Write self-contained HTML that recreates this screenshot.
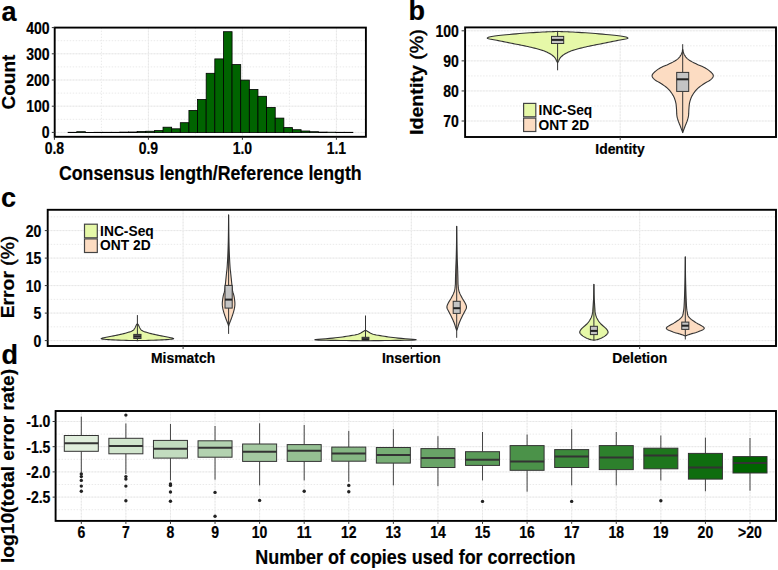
<!DOCTYPE html>
<html><head><meta charset="utf-8"><style>
html,body{margin:0;padding:0;background:#fff;}
svg{display:block;font-family:"Liberation Sans", sans-serif;}
</style></head><body>
<svg width="778" height="570" viewBox="0 0 778 570">
<rect width="778" height="570" fill="#fff"/>
<line x1="101.40" y1="27.60" x2="101.40" y2="136.80" stroke="#eaeaea" stroke-width="1" stroke-dasharray="1.5,1.5"/>
<line x1="195.40" y1="27.60" x2="195.40" y2="136.80" stroke="#eaeaea" stroke-width="1" stroke-dasharray="1.5,1.5"/>
<line x1="289.40" y1="27.60" x2="289.40" y2="136.80" stroke="#eaeaea" stroke-width="1" stroke-dasharray="1.5,1.5"/>
<line x1="148.40" y1="27.60" x2="148.40" y2="136.80" stroke="#f3f3f3" stroke-width="1"/>
<line x1="148.40" y1="27.60" x2="148.40" y2="136.80" stroke="#e7e7e7" stroke-width="1" stroke-dasharray="1.5,1.5"/>
<line x1="242.40" y1="27.60" x2="242.40" y2="136.80" stroke="#f3f3f3" stroke-width="1"/>
<line x1="242.40" y1="27.60" x2="242.40" y2="136.80" stroke="#e7e7e7" stroke-width="1" stroke-dasharray="1.5,1.5"/>
<line x1="336.40" y1="27.60" x2="336.40" y2="136.80" stroke="#f3f3f3" stroke-width="1"/>
<line x1="336.40" y1="27.60" x2="336.40" y2="136.80" stroke="#e7e7e7" stroke-width="1" stroke-dasharray="1.5,1.5"/>
<line x1="54.70" y1="119.30" x2="365.90" y2="119.30" stroke="#eaeaea" stroke-width="1" stroke-dasharray="1.5,1.5"/>
<line x1="54.70" y1="93.10" x2="365.90" y2="93.10" stroke="#eaeaea" stroke-width="1" stroke-dasharray="1.5,1.5"/>
<line x1="54.70" y1="66.90" x2="365.90" y2="66.90" stroke="#eaeaea" stroke-width="1" stroke-dasharray="1.5,1.5"/>
<line x1="54.70" y1="40.70" x2="365.90" y2="40.70" stroke="#eaeaea" stroke-width="1" stroke-dasharray="1.5,1.5"/>
<line x1="54.70" y1="132.40" x2="365.90" y2="132.40" stroke="#f3f3f3" stroke-width="1"/>
<line x1="54.70" y1="132.40" x2="365.90" y2="132.40" stroke="#e7e7e7" stroke-width="1" stroke-dasharray="1.5,1.5"/>
<line x1="54.70" y1="106.20" x2="365.90" y2="106.20" stroke="#f3f3f3" stroke-width="1"/>
<line x1="54.70" y1="106.20" x2="365.90" y2="106.20" stroke="#e7e7e7" stroke-width="1" stroke-dasharray="1.5,1.5"/>
<line x1="54.70" y1="80.00" x2="365.90" y2="80.00" stroke="#f3f3f3" stroke-width="1"/>
<line x1="54.70" y1="80.00" x2="365.90" y2="80.00" stroke="#e7e7e7" stroke-width="1" stroke-dasharray="1.5,1.5"/>
<line x1="54.70" y1="53.80" x2="365.90" y2="53.80" stroke="#f3f3f3" stroke-width="1"/>
<line x1="54.70" y1="53.80" x2="365.90" y2="53.80" stroke="#e7e7e7" stroke-width="1" stroke-dasharray="1.5,1.5"/>
<rect x="68.10" y="132.30" width="8.63" height="0.30" fill="#006400" stroke="#000" stroke-width="0.8" />
<rect x="76.73" y="131.70" width="8.63" height="0.90" fill="#006400" stroke="#000" stroke-width="0.8" />
<rect x="85.36" y="132.50" width="8.63" height="0.10" fill="#006400" stroke="#000" stroke-width="0.8" />
<rect x="93.99" y="132.30" width="8.63" height="0.30" fill="#006400" stroke="#000" stroke-width="0.8" />
<rect x="102.62" y="132.30" width="8.63" height="0.30" fill="#006400" stroke="#000" stroke-width="0.8" />
<rect x="111.25" y="132.30" width="8.63" height="0.30" fill="#006400" stroke="#000" stroke-width="0.8" />
<rect x="119.88" y="132.10" width="8.63" height="0.50" fill="#006400" stroke="#000" stroke-width="0.8" />
<rect x="128.51" y="132.00" width="8.63" height="0.60" fill="#006400" stroke="#000" stroke-width="0.8" />
<rect x="137.14" y="131.50" width="8.63" height="1.10" fill="#006400" stroke="#000" stroke-width="0.8" />
<rect x="145.77" y="131.25" width="8.63" height="1.35" fill="#006400" stroke="#000" stroke-width="0.8" />
<rect x="154.40" y="130.60" width="8.63" height="2.00" fill="#006400" stroke="#000" stroke-width="0.8" />
<rect x="163.03" y="127.20" width="8.63" height="5.40" fill="#006400" stroke="#000" stroke-width="0.8" />
<rect x="171.66" y="128.80" width="8.63" height="3.80" fill="#006400" stroke="#000" stroke-width="0.8" />
<rect x="180.29" y="122.70" width="8.63" height="9.90" fill="#006400" stroke="#000" stroke-width="0.8" />
<rect x="188.92" y="110.40" width="8.63" height="22.20" fill="#006400" stroke="#000" stroke-width="0.8" />
<rect x="197.55" y="99.50" width="8.63" height="33.10" fill="#006400" stroke="#000" stroke-width="0.8" />
<rect x="206.18" y="73.30" width="8.63" height="59.30" fill="#006400" stroke="#000" stroke-width="0.8" />
<rect x="214.81" y="58.90" width="8.63" height="73.70" fill="#006400" stroke="#000" stroke-width="0.8" />
<rect x="223.44" y="31.70" width="8.63" height="100.90" fill="#006400" stroke="#000" stroke-width="0.8" />
<rect x="232.07" y="64.60" width="8.63" height="68.00" fill="#006400" stroke="#000" stroke-width="0.8" />
<rect x="240.70" y="80.10" width="8.63" height="52.50" fill="#006400" stroke="#000" stroke-width="0.8" />
<rect x="249.33" y="89.40" width="8.63" height="43.20" fill="#006400" stroke="#000" stroke-width="0.8" />
<rect x="257.96" y="96.30" width="8.63" height="36.30" fill="#006400" stroke="#000" stroke-width="0.8" />
<rect x="266.59" y="107.40" width="8.63" height="25.20" fill="#006400" stroke="#000" stroke-width="0.8" />
<rect x="275.22" y="118.10" width="8.63" height="14.50" fill="#006400" stroke="#000" stroke-width="0.8" />
<rect x="283.85" y="127.60" width="8.63" height="5.00" fill="#006400" stroke="#000" stroke-width="0.8" />
<rect x="292.48" y="129.70" width="8.63" height="2.90" fill="#006400" stroke="#000" stroke-width="0.8" />
<rect x="301.11" y="131.00" width="8.63" height="1.60" fill="#006400" stroke="#000" stroke-width="0.8" />
<rect x="309.74" y="131.70" width="8.63" height="0.90" fill="#006400" stroke="#000" stroke-width="0.8" />
<rect x="318.37" y="132.10" width="8.63" height="0.50" fill="#006400" stroke="#000" stroke-width="0.8" />
<rect x="327.00" y="132.20" width="8.63" height="0.40" fill="#006400" stroke="#000" stroke-width="0.8" />
<rect x="335.63" y="132.30" width="8.63" height="0.30" fill="#006400" stroke="#000" stroke-width="0.8" />
<rect x="344.26" y="132.30" width="8.63" height="0.30" fill="#006400" stroke="#000" stroke-width="0.8" />
<rect x="54.70" y="27.60" width="311.20" height="109.20" fill="none" stroke="#000" stroke-width="1.9" />
<line x1="51.80" y1="132.40" x2="54.70" y2="132.40" stroke="#333" stroke-width="1" />
<text transform="translate(49.60,138.30) scale(0.9,1)" font-size="15.6" text-anchor="end" font-weight="bold" fill="#000" stroke="#000" stroke-width="0.2">0</text>
<line x1="51.80" y1="106.20" x2="54.70" y2="106.20" stroke="#333" stroke-width="1" />
<text transform="translate(49.60,112.10) scale(0.9,1)" font-size="15.6" text-anchor="end" font-weight="bold" fill="#000" stroke="#000" stroke-width="0.2">100</text>
<line x1="51.80" y1="80.00" x2="54.70" y2="80.00" stroke="#333" stroke-width="1" />
<text transform="translate(49.60,85.90) scale(0.9,1)" font-size="15.6" text-anchor="end" font-weight="bold" fill="#000" stroke="#000" stroke-width="0.2">200</text>
<line x1="51.80" y1="53.80" x2="54.70" y2="53.80" stroke="#333" stroke-width="1" />
<text transform="translate(49.60,59.70) scale(0.9,1)" font-size="15.6" text-anchor="end" font-weight="bold" fill="#000" stroke="#000" stroke-width="0.2">300</text>
<line x1="51.80" y1="27.60" x2="54.70" y2="27.60" stroke="#333" stroke-width="1" />
<text transform="translate(49.60,33.50) scale(0.9,1)" font-size="15.6" text-anchor="end" font-weight="bold" fill="#000" stroke="#000" stroke-width="0.2">400</text>
<line x1="54.40" y1="136.80" x2="54.40" y2="139.80" stroke="#333" stroke-width="1" />
<text transform="translate(54.40,153.60) scale(0.9,1)" font-size="15.6" text-anchor="middle" font-weight="bold" fill="#000" stroke="#000" stroke-width="0.2">0.8</text>
<line x1="148.40" y1="136.80" x2="148.40" y2="139.80" stroke="#333" stroke-width="1" />
<text transform="translate(148.40,153.60) scale(0.9,1)" font-size="15.6" text-anchor="middle" font-weight="bold" fill="#000" stroke="#000" stroke-width="0.2">0.9</text>
<line x1="242.40" y1="136.80" x2="242.40" y2="139.80" stroke="#333" stroke-width="1" />
<text transform="translate(242.40,153.60) scale(0.9,1)" font-size="15.6" text-anchor="middle" font-weight="bold" fill="#000" stroke="#000" stroke-width="0.2">1.0</text>
<line x1="336.40" y1="136.80" x2="336.40" y2="139.80" stroke="#333" stroke-width="1" />
<text transform="translate(336.40,153.60) scale(0.9,1)" font-size="15.6" text-anchor="middle" font-weight="bold" fill="#000" stroke="#000" stroke-width="0.2">1.1</text>
<text transform="translate(210.30,180.00) scale(0.92,1)" font-size="19.3" text-anchor="middle" font-weight="bold" fill="#000" stroke="#000" stroke-width="0.2">Consensus length/Reference length</text>
<text transform="translate(15.00,82.10) rotate(-90) scale(1,0.935)" font-size="19" text-anchor="middle" font-weight="bold" stroke="#000" stroke-width="0.2">Count</text>
<text transform="translate(1.50,20.50) scale(1.0,1)" font-size="27" text-anchor="start" font-weight="bold" fill="#000" stroke="#000" stroke-width="0.2">a</text>
<line x1="465.10" y1="45.84" x2="776.00" y2="45.84" stroke="#eaeaea" stroke-width="1" stroke-dasharray="1.5,1.5"/>
<line x1="465.10" y1="75.91" x2="776.00" y2="75.91" stroke="#eaeaea" stroke-width="1" stroke-dasharray="1.5,1.5"/>
<line x1="465.10" y1="105.97" x2="776.00" y2="105.97" stroke="#eaeaea" stroke-width="1" stroke-dasharray="1.5,1.5"/>
<line x1="465.10" y1="30.80" x2="776.00" y2="30.80" stroke="#f3f3f3" stroke-width="1"/>
<line x1="465.10" y1="30.80" x2="776.00" y2="30.80" stroke="#e7e7e7" stroke-width="1" stroke-dasharray="1.5,1.5"/>
<line x1="465.10" y1="60.87" x2="776.00" y2="60.87" stroke="#f3f3f3" stroke-width="1"/>
<line x1="465.10" y1="60.87" x2="776.00" y2="60.87" stroke="#e7e7e7" stroke-width="1" stroke-dasharray="1.5,1.5"/>
<line x1="465.10" y1="90.94" x2="776.00" y2="90.94" stroke="#f3f3f3" stroke-width="1"/>
<line x1="465.10" y1="90.94" x2="776.00" y2="90.94" stroke="#e7e7e7" stroke-width="1" stroke-dasharray="1.5,1.5"/>
<line x1="465.10" y1="121.01" x2="776.00" y2="121.01" stroke="#f3f3f3" stroke-width="1"/>
<line x1="465.10" y1="121.01" x2="776.00" y2="121.01" stroke="#e7e7e7" stroke-width="1" stroke-dasharray="1.5,1.5"/>
<line x1="620.20" y1="27.40" x2="620.20" y2="137.00" stroke="#f3f3f3" stroke-width="1"/>
<line x1="620.20" y1="27.40" x2="620.20" y2="137.00" stroke="#e7e7e7" stroke-width="1" stroke-dasharray="1.5,1.5"/>
<path d="M557.60,31.40 L558.22,31.43 L559.04,31.48 L560.03,31.53 L561.15,31.59 L562.35,31.64 L563.60,31.70 L564.82,31.75 L566.02,31.78 L567.31,31.82 L568.78,31.86 L570.55,31.94 L572.70,32.05 L575.35,32.20 L578.43,32.38 L581.79,32.59 L585.31,32.82 L588.82,33.06 L592.20,33.30 L595.55,33.56 L599.02,33.84 L602.49,34.13 L605.85,34.43 L608.99,34.72 L611.80,35.00 L614.29,35.26 L616.56,35.51 L618.60,35.75 L620.43,35.99 L622.06,36.24 L623.50,36.50 L624.78,36.77 L625.91,37.06 L626.83,37.35 L627.50,37.64 L627.88,37.93 L627.90,38.20 L627.50,38.46 L626.69,38.70 L625.58,38.94 L624.28,39.18 L622.88,39.43 L621.50,39.70 L620.08,39.99 L618.51,40.30 L616.86,40.62 L615.16,40.94 L613.46,41.27 L611.80,41.60 L610.17,41.93 L608.54,42.26 L606.91,42.60 L605.27,42.94 L603.63,43.27 L602.00,43.60 L600.37,43.92 L598.73,44.23 L597.09,44.54 L595.46,44.85 L593.83,45.17 L592.20,45.50 L590.58,45.84 L588.96,46.19 L587.35,46.55 L585.74,46.92 L584.12,47.30 L582.50,47.70 L580.83,48.12 L579.10,48.57 L577.36,49.03 L575.68,49.50 L574.11,49.96 L572.70,50.40 L571.47,50.83 L570.37,51.25 L569.38,51.67 L568.47,52.08 L567.62,52.49 L566.80,52.90 L566.02,53.30 L565.31,53.69 L564.66,54.08 L564.05,54.47 L563.47,54.87 L562.90,55.30 L562.34,55.75 L561.81,56.23 L561.30,56.71 L560.83,57.21 L560.39,57.71 L560.00,58.20 L559.66,58.71 L559.37,59.25 L559.12,59.79 L558.90,60.31 L558.70,60.79 L558.50,61.20 L558.30,61.54 L558.12,61.84 L557.96,62.09 L557.81,62.30 L557.69,62.47 L557.60,62.60 L557.60,62.60 L557.51,62.47 L557.39,62.30 L557.24,62.09 L557.08,61.84 L556.90,61.54 L556.70,61.20 L556.50,60.79 L556.30,60.31 L556.08,59.79 L555.83,59.25 L555.54,58.71 L555.20,58.20 L554.81,57.71 L554.37,57.21 L553.90,56.71 L553.39,56.23 L552.86,55.75 L552.30,55.30 L551.73,54.87 L551.15,54.47 L550.54,54.08 L549.89,53.69 L549.18,53.30 L548.40,52.90 L547.58,52.49 L546.73,52.08 L545.82,51.67 L544.83,51.25 L543.73,50.83 L542.50,50.40 L541.09,49.96 L539.52,49.50 L537.84,49.03 L536.10,48.57 L534.37,48.12 L532.70,47.70 L531.08,47.30 L529.46,46.92 L527.85,46.55 L526.24,46.19 L524.62,45.84 L523.00,45.50 L521.37,45.17 L519.74,44.85 L518.11,44.54 L516.47,44.23 L514.83,43.92 L513.20,43.60 L511.57,43.27 L509.93,42.94 L508.29,42.60 L506.66,42.26 L505.03,41.93 L503.40,41.60 L501.74,41.27 L500.04,40.94 L498.34,40.62 L496.69,40.30 L495.12,39.99 L493.70,39.70 L492.32,39.43 L490.92,39.18 L489.62,38.94 L488.51,38.70 L487.70,38.46 L487.30,38.20 L487.32,37.93 L487.70,37.64 L488.37,37.35 L489.29,37.06 L490.42,36.77 L491.70,36.50 L493.14,36.24 L494.77,35.99 L496.60,35.75 L498.64,35.51 L500.91,35.26 L503.40,35.00 L506.21,34.72 L509.35,34.43 L512.71,34.13 L516.18,33.84 L519.65,33.56 L523.00,33.30 L526.38,33.06 L529.89,32.82 L533.41,32.59 L536.77,32.38 L539.85,32.20 L542.50,32.05 L544.65,31.94 L546.42,31.86 L547.89,31.82 L549.18,31.78 L550.38,31.75 L551.60,31.70 L552.85,31.64 L554.05,31.59 L555.17,31.53 L556.16,31.48 L556.98,31.43 L557.60,31.40 Z" fill="#e6f8a8" stroke="#333333" stroke-width="1.1" stroke-linejoin="round"/>
<line x1="557.60" y1="31.40" x2="557.60" y2="36.40" stroke="#333" stroke-width="1" />
<line x1="557.60" y1="43.50" x2="557.60" y2="70.30" stroke="#333" stroke-width="1" />
<rect x="551.50" y="36.40" width="12.20" height="7.10" fill="#c4c4c4" stroke="#333" stroke-width="1.0" />
<line x1="551.50" y1="39.90" x2="563.70" y2="39.90" stroke="#222" stroke-width="2.0" />
<path d="M682.70,49.30 L682.80,49.76 L682.93,50.39 L683.09,51.14 L683.28,51.94 L683.52,52.75 L683.80,53.50 L684.13,54.21 L684.50,54.93 L684.91,55.66 L685.36,56.37 L685.86,57.05 L686.40,57.70 L686.98,58.30 L687.59,58.86 L688.24,59.40 L688.96,59.93 L689.74,60.45 L690.60,61.00 L691.56,61.56 L692.61,62.13 L693.74,62.69 L694.91,63.26 L696.10,63.83 L697.30,64.40 L698.53,64.96 L699.83,65.50 L701.15,66.05 L702.46,66.61 L703.72,67.19 L704.90,67.80 L706.02,68.46 L707.12,69.16 L708.17,69.88 L709.15,70.61 L710.03,71.32 L710.80,72.00 L711.47,72.64 L712.07,73.26 L712.58,73.87 L712.96,74.47 L713.21,75.08 L713.30,75.70 L713.22,76.33 L713.00,76.97 L712.63,77.62 L712.14,78.27 L711.52,78.93 L710.80,79.60 L709.91,80.27 L708.85,80.95 L707.66,81.63 L706.42,82.33 L705.18,83.05 L704.00,83.80 L702.86,84.57 L701.70,85.34 L700.54,86.14 L699.41,86.97 L698.32,87.85 L697.30,88.80 L696.33,89.83 L695.39,90.94 L694.49,92.09 L693.65,93.27 L692.88,94.45 L692.20,95.60 L691.61,96.72 L691.11,97.84 L690.68,98.96 L690.31,100.07 L689.99,101.18 L689.70,102.30 L689.46,103.42 L689.29,104.53 L689.17,105.64 L689.07,106.76 L688.99,107.88 L688.90,109.00 L688.82,110.15 L688.77,111.33 L688.73,112.51 L688.69,113.66 L688.61,114.77 L688.50,115.80 L688.34,116.74 L688.16,117.60 L687.95,118.41 L687.72,119.19 L687.47,119.98 L687.20,120.80 L686.91,121.65 L686.58,122.50 L686.24,123.35 L685.89,124.20 L685.54,125.05 L685.20,125.90 L684.86,126.78 L684.51,127.70 L684.16,128.61 L683.83,129.48 L683.54,130.26 L683.30,130.90 L683.12,131.39 L682.98,131.77 L682.88,132.06 L682.81,132.28 L682.75,132.45 L682.70,132.60 L682.70,132.60 L682.65,132.45 L682.59,132.28 L682.52,132.06 L682.42,131.77 L682.28,131.39 L682.10,130.90 L681.86,130.26 L681.57,129.48 L681.24,128.61 L680.89,127.70 L680.54,126.78 L680.20,125.90 L679.86,125.05 L679.51,124.20 L679.16,123.35 L678.82,122.50 L678.49,121.65 L678.20,120.80 L677.93,119.98 L677.68,119.19 L677.45,118.41 L677.24,117.60 L677.06,116.74 L676.90,115.80 L676.79,114.77 L676.71,113.66 L676.67,112.51 L676.63,111.33 L676.58,110.15 L676.50,109.00 L676.41,107.88 L676.33,106.76 L676.23,105.64 L676.11,104.53 L675.94,103.42 L675.70,102.30 L675.41,101.18 L675.09,100.07 L674.72,98.96 L674.29,97.84 L673.79,96.72 L673.20,95.60 L672.52,94.45 L671.75,93.27 L670.91,92.09 L670.01,90.94 L669.07,89.83 L668.10,88.80 L667.08,87.85 L665.99,86.97 L664.86,86.14 L663.70,85.34 L662.54,84.57 L661.40,83.80 L660.22,83.05 L658.98,82.33 L657.74,81.63 L656.55,80.95 L655.49,80.27 L654.60,79.60 L653.88,78.93 L653.26,78.27 L652.77,77.62 L652.40,76.97 L652.18,76.33 L652.10,75.70 L652.19,75.08 L652.44,74.47 L652.83,73.87 L653.33,73.26 L653.93,72.64 L654.60,72.00 L655.37,71.32 L656.25,70.61 L657.23,69.88 L658.28,69.16 L659.38,68.46 L660.50,67.80 L661.68,67.19 L662.94,66.61 L664.25,66.05 L665.57,65.50 L666.87,64.96 L668.10,64.40 L669.30,63.83 L670.49,63.26 L671.66,62.69 L672.79,62.13 L673.84,61.56 L674.80,61.00 L675.66,60.45 L676.44,59.93 L677.16,59.40 L677.81,58.86 L678.42,58.30 L679.00,57.70 L679.54,57.05 L680.04,56.37 L680.49,55.66 L680.90,54.93 L681.27,54.21 L681.60,53.50 L681.88,52.75 L682.12,51.94 L682.31,51.14 L682.47,50.39 L682.60,49.76 L682.70,49.30 Z" fill="#fcdcc2" stroke="#333333" stroke-width="1.1" stroke-linejoin="round"/>
<line x1="682.70" y1="44.20" x2="682.70" y2="72.40" stroke="#333" stroke-width="1" />
<line x1="682.70" y1="91.40" x2="682.70" y2="132.60" stroke="#333" stroke-width="1" />
<rect x="676.70" y="72.40" width="12.00" height="19.00" fill="#c4c4c4" stroke="#333" stroke-width="1.0" />
<line x1="676.70" y1="79.30" x2="688.70" y2="79.30" stroke="#222" stroke-width="2.0" />
<rect x="465.10" y="27.40" width="310.90" height="109.60" fill="none" stroke="#000" stroke-width="1.9" />
<line x1="461.60" y1="30.80" x2="465.10" y2="30.80" stroke="#333" stroke-width="1" />
<text transform="translate(458.80,36.70) scale(0.9,1)" font-size="15.6" text-anchor="end" font-weight="bold" fill="#000" stroke="#000" stroke-width="0.2">100</text>
<line x1="461.60" y1="60.87" x2="465.10" y2="60.87" stroke="#333" stroke-width="1" />
<text transform="translate(458.80,66.77) scale(0.9,1)" font-size="15.6" text-anchor="end" font-weight="bold" fill="#000" stroke="#000" stroke-width="0.2">90</text>
<line x1="461.60" y1="90.94" x2="465.10" y2="90.94" stroke="#333" stroke-width="1" />
<text transform="translate(458.80,96.84) scale(0.9,1)" font-size="15.6" text-anchor="end" font-weight="bold" fill="#000" stroke="#000" stroke-width="0.2">80</text>
<line x1="461.60" y1="121.01" x2="465.10" y2="121.01" stroke="#333" stroke-width="1" />
<text transform="translate(458.80,126.91) scale(0.9,1)" font-size="15.6" text-anchor="end" font-weight="bold" fill="#000" stroke="#000" stroke-width="0.2">70</text>
<line x1="620.20" y1="137.00" x2="620.20" y2="140.00" stroke="#333" stroke-width="1" />
<text transform="translate(620.00,153.80) scale(0.91,1)" font-size="15.3" text-anchor="middle" font-weight="bold" fill="#000" stroke="#000" stroke-width="0.2">Identity</text>
<text transform="translate(423.00,82.10) rotate(-90) scale(1,0.935)" font-size="19.65" text-anchor="middle" font-weight="bold" stroke="#000" stroke-width="0.2">Identity <tspan font-weight="normal" stroke-width="0.5">(%)</tspan></text>
<text transform="translate(408.50,20.00) scale(1.0,1)" font-size="27" text-anchor="start" font-weight="bold" fill="#000" stroke="#000" stroke-width="0.2">b</text>
<rect x="523.60" y="103.40" width="12.20" height="13.40" fill="#e6f8a8" stroke="#444" stroke-width="1.2" />
<rect x="523.60" y="118.10" width="12.20" height="13.40" fill="#fcdcc2" stroke="#444" stroke-width="1.2" />
<text transform="translate(538.60,114.80) scale(1.0,1)" font-size="13.8" text-anchor="start" font-weight="bold" fill="#000" stroke="#000" stroke-width="0">INC-Seq</text>
<text transform="translate(538.60,129.50) scale(1.0,1)" font-size="13.8" text-anchor="start" font-weight="bold" fill="#000" stroke="#000" stroke-width="0">ONT 2D</text>
<line x1="47.70" y1="326.85" x2="776.00" y2="326.85" stroke="#eaeaea" stroke-width="1" stroke-dasharray="1.5,1.5"/>
<line x1="47.70" y1="299.35" x2="776.00" y2="299.35" stroke="#eaeaea" stroke-width="1" stroke-dasharray="1.5,1.5"/>
<line x1="47.70" y1="271.85" x2="776.00" y2="271.85" stroke="#eaeaea" stroke-width="1" stroke-dasharray="1.5,1.5"/>
<line x1="47.70" y1="244.35" x2="776.00" y2="244.35" stroke="#eaeaea" stroke-width="1" stroke-dasharray="1.5,1.5"/>
<line x1="47.70" y1="216.85" x2="776.00" y2="216.85" stroke="#eaeaea" stroke-width="1" stroke-dasharray="1.5,1.5"/>
<line x1="47.70" y1="340.60" x2="776.00" y2="340.60" stroke="#f3f3f3" stroke-width="1"/>
<line x1="47.70" y1="340.60" x2="776.00" y2="340.60" stroke="#e7e7e7" stroke-width="1" stroke-dasharray="1.5,1.5"/>
<line x1="47.70" y1="313.10" x2="776.00" y2="313.10" stroke="#f3f3f3" stroke-width="1"/>
<line x1="47.70" y1="313.10" x2="776.00" y2="313.10" stroke="#e7e7e7" stroke-width="1" stroke-dasharray="1.5,1.5"/>
<line x1="47.70" y1="285.60" x2="776.00" y2="285.60" stroke="#f3f3f3" stroke-width="1"/>
<line x1="47.70" y1="285.60" x2="776.00" y2="285.60" stroke="#e7e7e7" stroke-width="1" stroke-dasharray="1.5,1.5"/>
<line x1="47.70" y1="258.10" x2="776.00" y2="258.10" stroke="#f3f3f3" stroke-width="1"/>
<line x1="47.70" y1="258.10" x2="776.00" y2="258.10" stroke="#e7e7e7" stroke-width="1" stroke-dasharray="1.5,1.5"/>
<line x1="47.70" y1="230.60" x2="776.00" y2="230.60" stroke="#f3f3f3" stroke-width="1"/>
<line x1="47.70" y1="230.60" x2="776.00" y2="230.60" stroke="#e7e7e7" stroke-width="1" stroke-dasharray="1.5,1.5"/>
<line x1="183.10" y1="209.80" x2="183.10" y2="346.00" stroke="#f3f3f3" stroke-width="1"/>
<line x1="183.10" y1="209.80" x2="183.10" y2="346.00" stroke="#e7e7e7" stroke-width="1" stroke-dasharray="1.5,1.5"/>
<line x1="411.30" y1="209.80" x2="411.30" y2="346.00" stroke="#f3f3f3" stroke-width="1"/>
<line x1="411.30" y1="209.80" x2="411.30" y2="346.00" stroke="#e7e7e7" stroke-width="1" stroke-dasharray="1.5,1.5"/>
<line x1="639.70" y1="209.80" x2="639.70" y2="346.00" stroke="#f3f3f3" stroke-width="1"/>
<line x1="639.70" y1="209.80" x2="639.70" y2="346.00" stroke="#e7e7e7" stroke-width="1" stroke-dasharray="1.5,1.5"/>
<path d="M137.40,323.80 L137.50,323.89 L137.63,323.99 L137.79,324.12 L137.97,324.31 L138.18,324.56 L138.40,324.90 L138.64,325.37 L138.91,325.96 L139.20,326.61 L139.51,327.29 L139.84,327.93 L140.20,328.50 L140.52,328.98 L140.80,329.41 L141.10,329.81 L141.49,330.20 L142.03,330.59 L142.80,331.00 L143.82,331.43 L145.04,331.87 L146.42,332.31 L147.90,332.75 L149.45,333.18 L151.00,333.60 L152.57,334.00 L154.20,334.38 L155.89,334.75 L157.64,335.12 L159.44,335.50 L161.30,335.90 L163.46,336.33 L165.97,336.80 L168.54,337.27 L170.87,337.73 L172.66,338.15 L173.60,338.50 L173.62,338.77 L172.95,338.99 L171.73,339.17 L170.13,339.32 L168.30,339.46 L166.40,339.60 L164.29,339.74 L161.81,339.88 L159.10,340.00 L156.30,340.11 L153.56,340.21 L151.00,340.30 L148.47,340.38 L145.83,340.44 L143.24,340.49 L140.86,340.54 L138.86,340.57 L137.40,340.60 L137.40,340.60 L135.94,340.57 L133.94,340.54 L131.56,340.49 L128.97,340.44 L126.33,340.38 L123.80,340.30 L121.24,340.21 L118.50,340.11 L115.70,340.00 L112.99,339.88 L110.51,339.74 L108.40,339.60 L106.50,339.46 L104.67,339.32 L103.07,339.17 L101.85,338.99 L101.18,338.77 L101.20,338.50 L102.14,338.15 L103.93,337.73 L106.26,337.27 L108.83,336.80 L111.34,336.33 L113.50,335.90 L115.36,335.50 L117.16,335.12 L118.91,334.75 L120.60,334.38 L122.23,334.00 L123.80,333.60 L125.35,333.18 L126.90,332.75 L128.38,332.31 L129.76,331.87 L130.98,331.43 L132.00,331.00 L132.77,330.59 L133.31,330.20 L133.70,329.81 L134.00,329.41 L134.28,328.98 L134.60,328.50 L134.96,327.93 L135.29,327.29 L135.60,326.61 L135.89,325.96 L136.16,325.37 L136.40,324.90 L136.62,324.56 L136.83,324.31 L137.01,324.12 L137.17,323.99 L137.30,323.89 L137.40,323.80 Z" fill="#e6f8a8" stroke="#333333" stroke-width="1.1" stroke-linejoin="round"/>
<line x1="137.40" y1="315.10" x2="137.40" y2="334.40" stroke="#333" stroke-width="1" />
<line x1="137.40" y1="338.50" x2="137.40" y2="340.60" stroke="#333" stroke-width="1" />
<rect x="133.80" y="334.40" width="7.20" height="4.10" fill="#666" stroke="#333" stroke-width="1.0" />
<line x1="133.80" y1="336.40" x2="141.00" y2="336.40" stroke="#222" stroke-width="1.5" />
<path d="M228.60,214.90 L228.62,217.14 L228.64,220.28 L228.67,223.98 L228.71,227.90 L228.75,231.68 L228.80,235.00 L228.85,237.85 L228.90,240.50 L228.96,243.02 L229.03,245.48 L229.11,247.95 L229.20,250.50 L229.31,253.20 L229.43,256.00 L229.57,258.82 L229.71,261.54 L229.86,264.07 L230.00,266.30 L230.14,268.17 L230.29,269.75 L230.44,271.14 L230.60,272.43 L230.75,273.71 L230.90,275.10 L231.05,276.59 L231.20,278.10 L231.36,279.61 L231.51,281.10 L231.66,282.54 L231.80,283.90 L231.93,285.19 L232.05,286.43 L232.17,287.62 L232.29,288.77 L232.43,289.86 L232.60,290.90 L232.80,291.85 L233.04,292.70 L233.29,293.49 L233.55,294.29 L233.79,295.14 L234.00,296.10 L234.20,297.20 L234.39,298.40 L234.57,299.65 L234.72,300.90 L234.84,302.10 L234.90,303.20 L234.91,304.18 L234.87,305.07 L234.79,305.91 L234.69,306.73 L234.55,307.55 L234.40,308.40 L234.22,309.28 L234.01,310.16 L233.78,311.04 L233.53,311.93 L233.27,312.82 L233.00,313.70 L232.72,314.59 L232.43,315.50 L232.12,316.41 L231.81,317.31 L231.50,318.17 L231.20,319.00 L230.90,319.79 L230.60,320.57 L230.29,321.31 L230.00,322.02 L229.74,322.69 L229.50,323.30 L229.29,323.87 L229.11,324.42 L228.94,324.92 L228.80,325.36 L228.69,325.72 L228.60,326.00 L228.60,326.00 L228.51,325.72 L228.40,325.36 L228.26,324.92 L228.09,324.42 L227.91,323.87 L227.70,323.30 L227.46,322.69 L227.20,322.02 L226.91,321.31 L226.60,320.57 L226.30,319.79 L226.00,319.00 L225.70,318.17 L225.39,317.31 L225.08,316.41 L224.77,315.50 L224.48,314.59 L224.20,313.70 L223.93,312.82 L223.67,311.93 L223.42,311.04 L223.19,310.16 L222.98,309.28 L222.80,308.40 L222.65,307.55 L222.51,306.73 L222.41,305.91 L222.33,305.07 L222.29,304.18 L222.30,303.20 L222.36,302.10 L222.48,300.90 L222.63,299.65 L222.81,298.40 L223.00,297.20 L223.20,296.10 L223.41,295.14 L223.65,294.29 L223.91,293.49 L224.16,292.70 L224.40,291.85 L224.60,290.90 L224.77,289.86 L224.91,288.77 L225.03,287.62 L225.15,286.43 L225.27,285.19 L225.40,283.90 L225.54,282.54 L225.69,281.10 L225.84,279.61 L226.00,278.10 L226.15,276.59 L226.30,275.10 L226.45,273.71 L226.60,272.43 L226.76,271.14 L226.91,269.75 L227.06,268.17 L227.20,266.30 L227.34,264.07 L227.49,261.54 L227.63,258.82 L227.77,256.00 L227.89,253.20 L228.00,250.50 L228.09,247.95 L228.17,245.48 L228.24,243.02 L228.30,240.50 L228.35,237.85 L228.40,235.00 L228.45,231.68 L228.49,227.90 L228.53,223.98 L228.56,220.28 L228.58,217.14 L228.60,214.90 Z" fill="#fcdcc2" stroke="#333333" stroke-width="1.1" stroke-linejoin="round"/>
<line x1="228.60" y1="214.90" x2="228.60" y2="285.40" stroke="#333" stroke-width="1" />
<line x1="228.60" y1="308.10" x2="228.60" y2="333.90" stroke="#333" stroke-width="1" />
<rect x="225.00" y="285.40" width="7.20" height="22.70" fill="#c4c4c4" stroke="#333" stroke-width="1.0" />
<line x1="225.00" y1="299.60" x2="232.20" y2="299.60" stroke="#222" stroke-width="2.0" />
<path d="M365.50,330.10 L365.69,330.22 L365.92,330.38 L366.21,330.57 L366.57,330.81 L367.03,331.08 L367.60,331.40 L368.25,331.79 L368.97,332.25 L369.78,332.75 L370.72,333.26 L371.81,333.76 L373.10,334.20 L374.61,334.59 L376.31,334.96 L378.18,335.31 L380.16,335.65 L382.22,335.98 L384.30,336.30 L386.40,336.62 L388.55,336.93 L390.77,337.23 L393.09,337.52 L395.52,337.81 L398.10,338.10 L401.32,338.40 L405.25,338.71 L409.31,339.03 L412.88,339.32 L415.38,339.58 L416.20,339.80 L415.10,339.97 L412.52,340.09 L408.86,340.18 L404.53,340.26 L399.94,340.33 L395.50,340.40 L390.69,340.48 L385.08,340.55 L379.21,340.61 L373.62,340.67 L368.87,340.71 L365.50,340.75 L365.50,340.75 L362.13,340.71 L357.38,340.67 L351.79,340.61 L345.92,340.55 L340.31,340.48 L335.50,340.40 L331.06,340.33 L326.47,340.26 L322.14,340.18 L318.48,340.09 L315.90,339.97 L314.80,339.80 L315.62,339.58 L318.12,339.32 L321.69,339.03 L325.75,338.71 L329.68,338.40 L332.90,338.10 L335.48,337.81 L337.91,337.52 L340.23,337.23 L342.45,336.93 L344.60,336.62 L346.70,336.30 L348.78,335.98 L350.84,335.65 L352.82,335.31 L354.69,334.96 L356.39,334.59 L357.90,334.20 L359.19,333.76 L360.28,333.26 L361.22,332.75 L362.03,332.25 L362.75,331.79 L363.40,331.40 L363.97,331.08 L364.43,330.81 L364.79,330.57 L365.08,330.38 L365.31,330.22 L365.50,330.10 Z" fill="#e6f8a8" stroke="#333333" stroke-width="1.1" stroke-linejoin="round"/>
<line x1="365.50" y1="315.50" x2="365.50" y2="337.30" stroke="#333" stroke-width="1" />
<line x1="365.50" y1="340.50" x2="365.50" y2="340.75" stroke="#333" stroke-width="1" />
<rect x="362.10" y="337.30" width="6.80" height="3.20" fill="#555" stroke="#333" stroke-width="1.0" />
<line x1="362.10" y1="339.20" x2="368.90" y2="339.20" stroke="#222" stroke-width="1.5" />
<path d="M456.70,226.20 L456.72,228.31 L456.75,231.29 L456.78,234.79 L456.82,238.47 L456.86,241.98 L456.90,245.00 L456.94,247.54 L456.99,249.87 L457.04,252.05 L457.09,254.10 L457.14,256.07 L457.20,258.00 L457.26,259.84 L457.33,261.56 L457.40,263.19 L457.47,264.78 L457.54,266.37 L457.60,268.00 L457.66,269.70 L457.71,271.44 L457.76,273.18 L457.81,274.87 L457.86,276.50 L457.90,278.00 L457.93,279.37 L457.94,280.64 L457.96,281.83 L457.98,282.97 L458.02,284.08 L458.10,285.20 L458.20,286.30 L458.30,287.37 L458.43,288.41 L458.60,289.43 L458.81,290.46 L459.10,291.50 L459.47,292.56 L459.92,293.64 L460.42,294.72 L460.95,295.78 L461.48,296.81 L462.00,297.80 L462.52,298.74 L463.08,299.65 L463.64,300.52 L464.19,301.37 L464.68,302.20 L465.10,303.00 L465.47,303.77 L465.81,304.50 L466.11,305.21 L466.33,305.91 L466.47,306.60 L466.50,307.30 L466.40,307.99 L466.17,308.67 L465.86,309.34 L465.49,310.03 L465.09,310.74 L464.70,311.50 L464.30,312.30 L463.87,313.12 L463.41,313.97 L462.94,314.85 L462.47,315.76 L462.00,316.70 L461.53,317.70 L461.03,318.76 L460.54,319.84 L460.06,320.93 L459.60,322.00 L459.20,323.00 L458.84,323.98 L458.52,324.96 L458.22,325.91 L457.96,326.81 L457.72,327.61 L457.50,328.30 L457.31,328.86 L457.14,329.31 L456.99,329.68 L456.87,329.97 L456.78,330.21 L456.70,330.40 L456.70,330.40 L456.62,330.21 L456.53,329.97 L456.41,329.68 L456.26,329.31 L456.09,328.86 L455.90,328.30 L455.68,327.61 L455.44,326.81 L455.18,325.91 L454.88,324.96 L454.56,323.98 L454.20,323.00 L453.80,322.00 L453.34,320.93 L452.86,319.84 L452.37,318.76 L451.87,317.70 L451.40,316.70 L450.93,315.76 L450.46,314.85 L449.99,313.97 L449.53,313.12 L449.10,312.30 L448.70,311.50 L448.31,310.74 L447.91,310.03 L447.54,309.34 L447.23,308.67 L447.00,307.99 L446.90,307.30 L446.93,306.60 L447.07,305.91 L447.29,305.21 L447.59,304.50 L447.93,303.77 L448.30,303.00 L448.72,302.20 L449.21,301.37 L449.76,300.52 L450.32,299.65 L450.88,298.74 L451.40,297.80 L451.92,296.81 L452.45,295.78 L452.98,294.72 L453.48,293.64 L453.93,292.56 L454.30,291.50 L454.59,290.46 L454.80,289.43 L454.97,288.41 L455.10,287.37 L455.20,286.30 L455.30,285.20 L455.38,284.08 L455.42,282.97 L455.44,281.83 L455.46,280.64 L455.47,279.37 L455.50,278.00 L455.54,276.50 L455.59,274.87 L455.64,273.18 L455.69,271.44 L455.74,269.70 L455.80,268.00 L455.86,266.37 L455.93,264.78 L456.00,263.19 L456.07,261.56 L456.14,259.84 L456.20,258.00 L456.26,256.07 L456.31,254.10 L456.36,252.05 L456.41,249.87 L456.46,247.54 L456.50,245.00 L456.54,241.98 L456.58,238.47 L456.62,234.79 L456.65,231.29 L456.68,228.31 L456.70,226.20 Z" fill="#fcdcc2" stroke="#333333" stroke-width="1.1" stroke-linejoin="round"/>
<line x1="456.70" y1="226.20" x2="456.70" y2="301.30" stroke="#333" stroke-width="1" />
<line x1="456.70" y1="313.40" x2="456.70" y2="337.80" stroke="#333" stroke-width="1" />
<rect x="453.20" y="301.30" width="7.00" height="12.10" fill="#c4c4c4" stroke="#333" stroke-width="1.0" />
<line x1="453.20" y1="308.20" x2="460.20" y2="308.20" stroke="#222" stroke-width="2.0" />
<path d="M593.90,284.20 L593.92,285.54 L593.94,287.44 L593.98,289.66 L594.01,291.99 L594.05,294.17 L594.10,296.00 L594.16,297.46 L594.22,298.73 L594.29,299.86 L594.36,300.92 L594.43,301.95 L594.50,303.00 L594.57,304.09 L594.64,305.17 L594.71,306.22 L594.77,307.23 L594.84,308.16 L594.90,309.00 L594.95,309.72 L594.99,310.34 L595.03,310.88 L595.07,311.39 L595.13,311.88 L595.20,312.40 L595.29,312.94 L595.39,313.46 L595.49,313.97 L595.61,314.49 L595.75,314.99 L595.90,315.50 L596.06,316.00 L596.22,316.47 L596.39,316.95 L596.59,317.44 L596.82,317.95 L597.10,318.50 L597.42,319.11 L597.79,319.76 L598.18,320.44 L598.60,321.13 L599.05,321.79 L599.50,322.40 L599.97,322.96 L600.47,323.49 L600.98,324.00 L601.51,324.50 L602.05,324.99 L602.60,325.50 L603.18,326.02 L603.80,326.53 L604.42,327.05 L605.04,327.57 L605.60,328.08 L606.10,328.60 L606.54,329.13 L606.95,329.66 L607.32,330.20 L607.63,330.73 L607.86,331.23 L608.00,331.70 L608.06,332.12 L608.05,332.50 L607.96,332.85 L607.80,333.20 L607.54,333.58 L607.20,334.00 L606.75,334.48 L606.19,335.00 L605.54,335.55 L604.83,336.10 L604.07,336.62 L603.30,337.10 L602.47,337.55 L601.56,337.98 L600.61,338.39 L599.65,338.77 L598.74,339.11 L597.90,339.40 L597.11,339.63 L596.31,339.81 L595.56,339.94 L594.89,340.05 L594.32,340.13 L593.90,340.20 L593.90,340.20 L593.48,340.13 L592.91,340.05 L592.24,339.94 L591.49,339.81 L590.69,339.63 L589.90,339.40 L589.06,339.11 L588.15,338.77 L587.19,338.39 L586.24,337.98 L585.33,337.55 L584.50,337.10 L583.73,336.62 L582.97,336.10 L582.26,335.55 L581.61,335.00 L581.05,334.48 L580.60,334.00 L580.26,333.58 L580.00,333.20 L579.84,332.85 L579.75,332.50 L579.74,332.12 L579.80,331.70 L579.94,331.23 L580.17,330.73 L580.48,330.20 L580.85,329.66 L581.26,329.13 L581.70,328.60 L582.20,328.08 L582.76,327.57 L583.38,327.05 L584.00,326.53 L584.62,326.02 L585.20,325.50 L585.75,324.99 L586.29,324.50 L586.82,324.00 L587.33,323.49 L587.83,322.96 L588.30,322.40 L588.75,321.79 L589.20,321.13 L589.62,320.44 L590.01,319.76 L590.38,319.11 L590.70,318.50 L590.98,317.95 L591.21,317.44 L591.41,316.95 L591.58,316.47 L591.74,316.00 L591.90,315.50 L592.05,314.99 L592.19,314.49 L592.31,313.97 L592.41,313.46 L592.51,312.94 L592.60,312.40 L592.67,311.88 L592.73,311.39 L592.77,310.88 L592.81,310.34 L592.85,309.72 L592.90,309.00 L592.96,308.16 L593.03,307.23 L593.09,306.22 L593.16,305.17 L593.23,304.09 L593.30,303.00 L593.37,301.95 L593.44,300.92 L593.51,299.86 L593.58,298.73 L593.64,297.46 L593.70,296.00 L593.75,294.17 L593.79,291.99 L593.82,289.66 L593.86,287.44 L593.88,285.54 L593.90,284.20 Z" fill="#e6f8a8" stroke="#333333" stroke-width="1.1" stroke-linejoin="round"/>
<line x1="593.90" y1="284.20" x2="593.90" y2="326.30" stroke="#333" stroke-width="1" />
<line x1="593.90" y1="334.60" x2="593.90" y2="340.20" stroke="#333" stroke-width="1" />
<rect x="590.40" y="326.30" width="7.00" height="8.30" fill="#c4c4c4" stroke="#333" stroke-width="1.0" />
<line x1="590.40" y1="330.90" x2="597.40" y2="330.90" stroke="#222" stroke-width="2.0" />
<path d="M685.30,256.80 L685.32,258.84 L685.35,261.71 L685.38,265.09 L685.42,268.64 L685.46,272.06 L685.50,275.00 L685.54,277.51 L685.59,279.87 L685.64,282.07 L685.70,284.16 L685.75,286.12 L685.80,288.00 L685.85,289.75 L685.90,291.37 L685.95,292.88 L686.00,294.30 L686.05,295.66 L686.10,297.00 L686.15,298.31 L686.20,299.57 L686.25,300.78 L686.30,301.93 L686.35,303.00 L686.40,304.00 L686.45,304.91 L686.49,305.73 L686.54,306.48 L686.59,307.18 L686.64,307.85 L686.70,308.50 L686.77,309.11 L686.84,309.66 L686.91,310.18 L687.00,310.69 L687.09,311.22 L687.20,311.80 L687.31,312.44 L687.40,313.11 L687.51,313.81 L687.65,314.50 L687.84,315.17 L688.10,315.80 L688.41,316.37 L688.76,316.90 L689.16,317.41 L689.62,317.91 L690.16,318.44 L690.80,319.00 L691.54,319.60 L692.37,320.20 L693.27,320.83 L694.26,321.49 L695.30,322.17 L696.40,322.90 L697.74,323.70 L699.36,324.57 L701.05,325.47 L702.58,326.37 L703.74,327.22 L704.30,328.00 L704.17,328.70 L703.52,329.36 L702.49,329.97 L701.24,330.54 L699.92,331.09 L698.70,331.60 L697.49,332.08 L696.15,332.51 L694.74,332.91 L693.34,333.28 L692.00,333.64 L690.80,334.00 L689.68,334.37 L688.59,334.74 L687.56,335.10 L686.64,335.43 L685.87,335.70 L685.30,335.90 L685.30,335.90 L684.73,335.70 L683.96,335.43 L683.04,335.10 L682.01,334.74 L680.92,334.37 L679.80,334.00 L678.60,333.64 L677.26,333.28 L675.86,332.91 L674.45,332.51 L673.11,332.08 L671.90,331.60 L670.68,331.09 L669.36,330.54 L668.11,329.97 L667.08,329.36 L666.43,328.70 L666.30,328.00 L666.86,327.22 L668.02,326.37 L669.55,325.47 L671.24,324.57 L672.86,323.70 L674.20,322.90 L675.30,322.17 L676.34,321.49 L677.32,320.83 L678.23,320.20 L679.06,319.60 L679.80,319.00 L680.44,318.44 L680.98,317.91 L681.44,317.41 L681.84,316.90 L682.19,316.37 L682.50,315.80 L682.76,315.17 L682.95,314.50 L683.09,313.81 L683.20,313.11 L683.29,312.44 L683.40,311.80 L683.51,311.22 L683.60,310.69 L683.69,310.18 L683.76,309.66 L683.83,309.11 L683.90,308.50 L683.96,307.85 L684.01,307.18 L684.06,306.48 L684.11,305.73 L684.15,304.91 L684.20,304.00 L684.25,303.00 L684.30,301.93 L684.35,300.78 L684.40,299.57 L684.45,298.31 L684.50,297.00 L684.55,295.66 L684.60,294.30 L684.65,292.88 L684.70,291.37 L684.75,289.75 L684.80,288.00 L684.85,286.12 L684.90,284.16 L684.96,282.07 L685.01,279.87 L685.06,277.51 L685.10,275.00 L685.14,272.06 L685.18,268.64 L685.22,265.09 L685.25,261.71 L685.28,258.84 L685.30,256.80 Z" fill="#fcdcc2" stroke="#333333" stroke-width="1.1" stroke-linejoin="round"/>
<line x1="685.30" y1="256.80" x2="685.30" y2="322.10" stroke="#333" stroke-width="1" />
<line x1="685.30" y1="329.40" x2="685.30" y2="339.50" stroke="#333" stroke-width="1" />
<rect x="681.75" y="322.10" width="7.10" height="7.30" fill="#c4c4c4" stroke="#333" stroke-width="1.0" />
<line x1="681.75" y1="325.70" x2="688.85" y2="325.70" stroke="#222" stroke-width="2.0" />
<rect x="47.70" y="209.80" width="728.30" height="136.20" fill="none" stroke="#000" stroke-width="1.9" />
<line x1="44.80" y1="340.60" x2="47.70" y2="340.60" stroke="#333" stroke-width="1" />
<text transform="translate(41.30,346.50) scale(0.9,1)" font-size="15.6" text-anchor="end" font-weight="bold" fill="#000" stroke="#000" stroke-width="0.2">0</text>
<line x1="44.80" y1="313.10" x2="47.70" y2="313.10" stroke="#333" stroke-width="1" />
<text transform="translate(41.30,319.00) scale(0.9,1)" font-size="15.6" text-anchor="end" font-weight="bold" fill="#000" stroke="#000" stroke-width="0.2">5</text>
<line x1="44.80" y1="285.60" x2="47.70" y2="285.60" stroke="#333" stroke-width="1" />
<text transform="translate(41.30,291.50) scale(0.9,1)" font-size="15.6" text-anchor="end" font-weight="bold" fill="#000" stroke="#000" stroke-width="0.2">10</text>
<line x1="44.80" y1="258.10" x2="47.70" y2="258.10" stroke="#333" stroke-width="1" />
<text transform="translate(41.30,264.00) scale(0.9,1)" font-size="15.6" text-anchor="end" font-weight="bold" fill="#000" stroke="#000" stroke-width="0.2">15</text>
<line x1="44.80" y1="230.60" x2="47.70" y2="230.60" stroke="#333" stroke-width="1" />
<text transform="translate(41.30,236.50) scale(0.9,1)" font-size="15.6" text-anchor="end" font-weight="bold" fill="#000" stroke="#000" stroke-width="0.2">20</text>
<line x1="183.10" y1="346.00" x2="183.10" y2="349.00" stroke="#333" stroke-width="1" />
<text transform="translate(183.10,362.80) scale(0.91,1)" font-size="15.3" text-anchor="middle" font-weight="bold" fill="#000" stroke="#000" stroke-width="0.2">Mismatch</text>
<line x1="411.30" y1="346.00" x2="411.30" y2="349.00" stroke="#333" stroke-width="1" />
<text transform="translate(411.30,362.80) scale(0.91,1)" font-size="15.3" text-anchor="middle" font-weight="bold" fill="#000" stroke="#000" stroke-width="0.2">Insertion</text>
<line x1="639.70" y1="346.00" x2="639.70" y2="349.00" stroke="#333" stroke-width="1" />
<text transform="translate(639.70,362.80) scale(0.91,1)" font-size="15.3" text-anchor="middle" font-weight="bold" fill="#000" stroke="#000" stroke-width="0.2">Deletion</text>
<text transform="translate(14.20,277.00) rotate(-90) scale(1,0.935)" font-size="19.3" text-anchor="middle" font-weight="bold" stroke="#000" stroke-width="0.2">Error <tspan font-weight="normal" stroke-width="0.5">(%)</tspan></text>
<text transform="translate(1.00,206.80) scale(1.0,1)" font-size="27" text-anchor="start" font-weight="bold" fill="#000" stroke="#000" stroke-width="0.2">c</text>
<rect x="84.50" y="224.20" width="12.80" height="13.60" fill="#e6f8a8" stroke="#444" stroke-width="1.2" />
<rect x="84.50" y="238.90" width="12.80" height="13.60" fill="#fcdcc2" stroke="#444" stroke-width="1.2" />
<text transform="translate(100.10,235.80) scale(1.0,1)" font-size="13.8" text-anchor="start" font-weight="bold" fill="#000" stroke="#000" stroke-width="0">INC-Seq</text>
<text transform="translate(100.10,250.40) scale(1.0,1)" font-size="13.8" text-anchor="start" font-weight="bold" fill="#000" stroke="#000" stroke-width="0">ONT 2D</text>
<line x1="55.60" y1="434.10" x2="776.00" y2="434.10" stroke="#eaeaea" stroke-width="1" stroke-dasharray="1.5,1.5"/>
<line x1="55.60" y1="459.30" x2="776.00" y2="459.30" stroke="#eaeaea" stroke-width="1" stroke-dasharray="1.5,1.5"/>
<line x1="55.60" y1="484.50" x2="776.00" y2="484.50" stroke="#eaeaea" stroke-width="1" stroke-dasharray="1.5,1.5"/>
<line x1="55.60" y1="509.70" x2="776.00" y2="509.70" stroke="#eaeaea" stroke-width="1" stroke-dasharray="1.5,1.5"/>
<line x1="55.60" y1="421.50" x2="776.00" y2="421.50" stroke="#f3f3f3" stroke-width="1"/>
<line x1="55.60" y1="421.50" x2="776.00" y2="421.50" stroke="#e7e7e7" stroke-width="1" stroke-dasharray="1.5,1.5"/>
<line x1="55.60" y1="446.70" x2="776.00" y2="446.70" stroke="#f3f3f3" stroke-width="1"/>
<line x1="55.60" y1="446.70" x2="776.00" y2="446.70" stroke="#e7e7e7" stroke-width="1" stroke-dasharray="1.5,1.5"/>
<line x1="55.60" y1="471.90" x2="776.00" y2="471.90" stroke="#f3f3f3" stroke-width="1"/>
<line x1="55.60" y1="471.90" x2="776.00" y2="471.90" stroke="#e7e7e7" stroke-width="1" stroke-dasharray="1.5,1.5"/>
<line x1="55.60" y1="497.10" x2="776.00" y2="497.10" stroke="#f3f3f3" stroke-width="1"/>
<line x1="55.60" y1="497.10" x2="776.00" y2="497.10" stroke="#e7e7e7" stroke-width="1" stroke-dasharray="1.5,1.5"/>
<line x1="81.30" y1="411.00" x2="81.30" y2="520.90" stroke="#f3f3f3" stroke-width="1"/>
<line x1="81.30" y1="411.00" x2="81.30" y2="520.90" stroke="#e7e7e7" stroke-width="1" stroke-dasharray="1.5,1.5"/>
<line x1="125.88" y1="411.00" x2="125.88" y2="520.90" stroke="#f3f3f3" stroke-width="1"/>
<line x1="125.88" y1="411.00" x2="125.88" y2="520.90" stroke="#e7e7e7" stroke-width="1" stroke-dasharray="1.5,1.5"/>
<line x1="170.46" y1="411.00" x2="170.46" y2="520.90" stroke="#f3f3f3" stroke-width="1"/>
<line x1="170.46" y1="411.00" x2="170.46" y2="520.90" stroke="#e7e7e7" stroke-width="1" stroke-dasharray="1.5,1.5"/>
<line x1="215.04" y1="411.00" x2="215.04" y2="520.90" stroke="#f3f3f3" stroke-width="1"/>
<line x1="215.04" y1="411.00" x2="215.04" y2="520.90" stroke="#e7e7e7" stroke-width="1" stroke-dasharray="1.5,1.5"/>
<line x1="259.62" y1="411.00" x2="259.62" y2="520.90" stroke="#f3f3f3" stroke-width="1"/>
<line x1="259.62" y1="411.00" x2="259.62" y2="520.90" stroke="#e7e7e7" stroke-width="1" stroke-dasharray="1.5,1.5"/>
<line x1="304.20" y1="411.00" x2="304.20" y2="520.90" stroke="#f3f3f3" stroke-width="1"/>
<line x1="304.20" y1="411.00" x2="304.20" y2="520.90" stroke="#e7e7e7" stroke-width="1" stroke-dasharray="1.5,1.5"/>
<line x1="348.78" y1="411.00" x2="348.78" y2="520.90" stroke="#f3f3f3" stroke-width="1"/>
<line x1="348.78" y1="411.00" x2="348.78" y2="520.90" stroke="#e7e7e7" stroke-width="1" stroke-dasharray="1.5,1.5"/>
<line x1="393.36" y1="411.00" x2="393.36" y2="520.90" stroke="#f3f3f3" stroke-width="1"/>
<line x1="393.36" y1="411.00" x2="393.36" y2="520.90" stroke="#e7e7e7" stroke-width="1" stroke-dasharray="1.5,1.5"/>
<line x1="437.94" y1="411.00" x2="437.94" y2="520.90" stroke="#f3f3f3" stroke-width="1"/>
<line x1="437.94" y1="411.00" x2="437.94" y2="520.90" stroke="#e7e7e7" stroke-width="1" stroke-dasharray="1.5,1.5"/>
<line x1="482.52" y1="411.00" x2="482.52" y2="520.90" stroke="#f3f3f3" stroke-width="1"/>
<line x1="482.52" y1="411.00" x2="482.52" y2="520.90" stroke="#e7e7e7" stroke-width="1" stroke-dasharray="1.5,1.5"/>
<line x1="527.10" y1="411.00" x2="527.10" y2="520.90" stroke="#f3f3f3" stroke-width="1"/>
<line x1="527.10" y1="411.00" x2="527.10" y2="520.90" stroke="#e7e7e7" stroke-width="1" stroke-dasharray="1.5,1.5"/>
<line x1="571.68" y1="411.00" x2="571.68" y2="520.90" stroke="#f3f3f3" stroke-width="1"/>
<line x1="571.68" y1="411.00" x2="571.68" y2="520.90" stroke="#e7e7e7" stroke-width="1" stroke-dasharray="1.5,1.5"/>
<line x1="616.26" y1="411.00" x2="616.26" y2="520.90" stroke="#f3f3f3" stroke-width="1"/>
<line x1="616.26" y1="411.00" x2="616.26" y2="520.90" stroke="#e7e7e7" stroke-width="1" stroke-dasharray="1.5,1.5"/>
<line x1="660.84" y1="411.00" x2="660.84" y2="520.90" stroke="#f3f3f3" stroke-width="1"/>
<line x1="660.84" y1="411.00" x2="660.84" y2="520.90" stroke="#e7e7e7" stroke-width="1" stroke-dasharray="1.5,1.5"/>
<line x1="705.42" y1="411.00" x2="705.42" y2="520.90" stroke="#f3f3f3" stroke-width="1"/>
<line x1="705.42" y1="411.00" x2="705.42" y2="520.90" stroke="#e7e7e7" stroke-width="1" stroke-dasharray="1.5,1.5"/>
<line x1="750.00" y1="411.00" x2="750.00" y2="520.90" stroke="#f3f3f3" stroke-width="1"/>
<line x1="750.00" y1="411.00" x2="750.00" y2="520.90" stroke="#e7e7e7" stroke-width="1" stroke-dasharray="1.5,1.5"/>
<line x1="81.30" y1="416.60" x2="81.30" y2="435.50" stroke="#444" stroke-width="1" />
<line x1="81.30" y1="451.30" x2="81.30" y2="472.80" stroke="#444" stroke-width="1" />
<rect x="64.30" y="435.50" width="34.00" height="15.80" fill="#e0eedc" stroke="#333" stroke-width="1" />
<line x1="64.30" y1="443.30" x2="98.30" y2="443.30" stroke="#333" stroke-width="2" />
<circle cx="81.30" cy="474.00" r="1.7" fill="#222"/>
<circle cx="81.30" cy="476.60" r="1.7" fill="#222"/>
<circle cx="81.30" cy="480.40" r="1.7" fill="#222"/>
<circle cx="81.30" cy="486.10" r="1.7" fill="#222"/>
<circle cx="81.30" cy="491.30" r="1.7" fill="#222"/>
<line x1="125.88" y1="423.50" x2="125.88" y2="438.30" stroke="#444" stroke-width="1" />
<line x1="125.88" y1="453.80" x2="125.88" y2="474.00" stroke="#444" stroke-width="1" />
<rect x="108.88" y="438.30" width="34.00" height="15.50" fill="#d1e5cd" stroke="#333" stroke-width="1" />
<line x1="108.88" y1="446.10" x2="142.88" y2="446.10" stroke="#333" stroke-width="2" />
<circle cx="125.88" cy="415.10" r="1.7" fill="#222"/>
<circle cx="125.88" cy="476.60" r="1.7" fill="#222"/>
<circle cx="125.88" cy="479.10" r="1.7" fill="#222"/>
<circle cx="125.88" cy="486.10" r="1.7" fill="#222"/>
<circle cx="125.88" cy="500.80" r="1.7" fill="#222"/>
<line x1="170.46" y1="424.00" x2="170.46" y2="440.40" stroke="#444" stroke-width="1" />
<line x1="170.46" y1="458.10" x2="170.46" y2="480.40" stroke="#444" stroke-width="1" />
<rect x="153.46" y="440.40" width="34.00" height="17.70" fill="#c2dcbf" stroke="#333" stroke-width="1" />
<line x1="153.46" y1="448.80" x2="187.46" y2="448.80" stroke="#333" stroke-width="2" />
<circle cx="170.46" cy="484.00" r="1.7" fill="#222"/>
<circle cx="170.46" cy="485.40" r="1.7" fill="#222"/>
<circle cx="170.46" cy="492.00" r="1.7" fill="#222"/>
<circle cx="170.46" cy="501.20" r="1.7" fill="#222"/>
<line x1="215.04" y1="426.00" x2="215.04" y2="440.80" stroke="#444" stroke-width="1" />
<line x1="215.04" y1="457.20" x2="215.04" y2="479.70" stroke="#444" stroke-width="1" />
<rect x="198.04" y="440.80" width="34.00" height="16.40" fill="#b3d2b0" stroke="#333" stroke-width="1" />
<line x1="198.04" y1="447.70" x2="232.04" y2="447.70" stroke="#333" stroke-width="2" />
<circle cx="215.04" cy="492.40" r="1.7" fill="#222"/>
<circle cx="215.04" cy="516.20" r="1.7" fill="#222"/>
<line x1="259.62" y1="423.30" x2="259.62" y2="444.00" stroke="#444" stroke-width="1" />
<line x1="259.62" y1="461.40" x2="259.62" y2="485.40" stroke="#444" stroke-width="1" />
<rect x="242.62" y="444.00" width="34.00" height="17.40" fill="#a4c9a1" stroke="#333" stroke-width="1" />
<line x1="242.62" y1="451.70" x2="276.62" y2="451.70" stroke="#333" stroke-width="2" />
<circle cx="259.62" cy="500.40" r="1.7" fill="#222"/>
<line x1="304.20" y1="425.00" x2="304.20" y2="444.60" stroke="#444" stroke-width="1" />
<line x1="304.20" y1="461.40" x2="304.20" y2="480.40" stroke="#444" stroke-width="1" />
<rect x="287.20" y="444.60" width="34.00" height="16.80" fill="#95c093" stroke="#333" stroke-width="1" />
<line x1="287.20" y1="450.70" x2="321.20" y2="450.70" stroke="#333" stroke-width="2" />
<circle cx="304.20" cy="491.30" r="1.7" fill="#222"/>
<line x1="348.78" y1="430.90" x2="348.78" y2="447.10" stroke="#444" stroke-width="1" />
<line x1="348.78" y1="461.20" x2="348.78" y2="481.80" stroke="#444" stroke-width="1" />
<rect x="331.78" y="447.10" width="34.00" height="14.10" fill="#86b784" stroke="#333" stroke-width="1" />
<line x1="331.78" y1="453.40" x2="365.78" y2="453.40" stroke="#333" stroke-width="2" />
<circle cx="348.78" cy="485.40" r="1.7" fill="#222"/>
<circle cx="348.78" cy="491.70" r="1.7" fill="#222"/>
<line x1="393.36" y1="429.20" x2="393.36" y2="447.50" stroke="#444" stroke-width="1" />
<line x1="393.36" y1="463.10" x2="393.36" y2="485.40" stroke="#444" stroke-width="1" />
<rect x="376.36" y="447.50" width="34.00" height="15.60" fill="#77ae75" stroke="#333" stroke-width="1" />
<line x1="376.36" y1="455.10" x2="410.36" y2="455.10" stroke="#333" stroke-width="2" />
<line x1="437.94" y1="436.20" x2="437.94" y2="448.60" stroke="#444" stroke-width="1" />
<line x1="437.94" y1="467.50" x2="437.94" y2="486.10" stroke="#444" stroke-width="1" />
<rect x="420.94" y="448.60" width="34.00" height="18.90" fill="#69a467" stroke="#333" stroke-width="1" />
<line x1="420.94" y1="458.00" x2="454.94" y2="458.00" stroke="#333" stroke-width="2" />
<line x1="482.52" y1="432.00" x2="482.52" y2="451.70" stroke="#444" stroke-width="1" />
<line x1="482.52" y1="465.40" x2="482.52" y2="480.40" stroke="#444" stroke-width="1" />
<rect x="465.52" y="451.70" width="34.00" height="13.70" fill="#5a9b58" stroke="#333" stroke-width="1" />
<line x1="465.52" y1="459.70" x2="499.52" y2="459.70" stroke="#333" stroke-width="2" />
<circle cx="482.52" cy="501.40" r="1.7" fill="#222"/>
<line x1="527.10" y1="434.50" x2="527.10" y2="445.60" stroke="#444" stroke-width="1" />
<line x1="527.10" y1="470.30" x2="527.10" y2="491.70" stroke="#444" stroke-width="1" />
<rect x="510.10" y="445.60" width="34.00" height="24.70" fill="#4b9249" stroke="#333" stroke-width="1" />
<line x1="510.10" y1="461.40" x2="544.10" y2="461.40" stroke="#333" stroke-width="2" />
<line x1="571.68" y1="429.20" x2="571.68" y2="449.60" stroke="#444" stroke-width="1" />
<line x1="571.68" y1="467.50" x2="571.68" y2="485.40" stroke="#444" stroke-width="1" />
<rect x="554.68" y="449.60" width="34.00" height="17.90" fill="#3c893b" stroke="#333" stroke-width="1" />
<line x1="554.68" y1="456.60" x2="588.68" y2="456.60" stroke="#333" stroke-width="2" />
<circle cx="571.68" cy="501.40" r="1.7" fill="#222"/>
<line x1="616.26" y1="432.00" x2="616.26" y2="445.60" stroke="#444" stroke-width="1" />
<line x1="616.26" y1="469.60" x2="616.26" y2="485.40" stroke="#444" stroke-width="1" />
<rect x="599.26" y="445.60" width="34.00" height="24.00" fill="#2d802c" stroke="#333" stroke-width="1" />
<line x1="599.26" y1="457.60" x2="633.26" y2="457.60" stroke="#333" stroke-width="2" />
<line x1="660.84" y1="435.50" x2="660.84" y2="448.20" stroke="#444" stroke-width="1" />
<line x1="660.84" y1="468.80" x2="660.84" y2="480.40" stroke="#444" stroke-width="1" />
<rect x="643.84" y="448.20" width="34.00" height="20.60" fill="#1e761d" stroke="#333" stroke-width="1" />
<line x1="643.84" y1="455.50" x2="677.84" y2="455.50" stroke="#333" stroke-width="2" />
<circle cx="660.84" cy="500.80" r="1.7" fill="#222"/>
<line x1="705.42" y1="437.60" x2="705.42" y2="453.40" stroke="#444" stroke-width="1" />
<line x1="705.42" y1="479.10" x2="705.42" y2="491.30" stroke="#444" stroke-width="1" />
<rect x="688.42" y="453.40" width="34.00" height="25.70" fill="#0f6d0f" stroke="#333" stroke-width="1" />
<line x1="688.42" y1="467.50" x2="722.42" y2="467.50" stroke="#333" stroke-width="2" />
<line x1="750.00" y1="438.00" x2="750.00" y2="456.60" stroke="#444" stroke-width="1" />
<line x1="750.00" y1="473.00" x2="750.00" y2="490.70" stroke="#444" stroke-width="1" />
<rect x="733.00" y="456.60" width="34.00" height="16.40" fill="#006400" stroke="#333" stroke-width="1" />
<line x1="733.00" y1="462.90" x2="767.00" y2="462.90" stroke="#333" stroke-width="2" />
<rect x="55.60" y="411.00" width="720.40" height="109.90" fill="none" stroke="#000" stroke-width="1.9" />
<line x1="52.60" y1="421.50" x2="55.60" y2="421.50" stroke="#333" stroke-width="1" />
<text transform="translate(50.40,427.40) scale(0.9,1)" font-size="15.6" text-anchor="end" font-weight="bold" fill="#000" stroke="#000" stroke-width="0.2">-1.0</text>
<line x1="52.60" y1="446.70" x2="55.60" y2="446.70" stroke="#333" stroke-width="1" />
<text transform="translate(50.40,452.60) scale(0.9,1)" font-size="15.6" text-anchor="end" font-weight="bold" fill="#000" stroke="#000" stroke-width="0.2">-1.5</text>
<line x1="52.60" y1="471.90" x2="55.60" y2="471.90" stroke="#333" stroke-width="1" />
<text transform="translate(50.40,477.80) scale(0.9,1)" font-size="15.6" text-anchor="end" font-weight="bold" fill="#000" stroke="#000" stroke-width="0.2">-2.0</text>
<line x1="52.60" y1="497.10" x2="55.60" y2="497.10" stroke="#333" stroke-width="1" />
<text transform="translate(50.40,503.00) scale(0.9,1)" font-size="15.6" text-anchor="end" font-weight="bold" fill="#000" stroke="#000" stroke-width="0.2">-2.5</text>
<line x1="81.30" y1="520.90" x2="81.30" y2="523.90" stroke="#333" stroke-width="1" />
<text transform="translate(81.30,537.60) scale(0.9,1)" font-size="15.6" text-anchor="middle" font-weight="bold" fill="#000" stroke="#000" stroke-width="0.2">6</text>
<line x1="125.88" y1="520.90" x2="125.88" y2="523.90" stroke="#333" stroke-width="1" />
<text transform="translate(125.88,537.60) scale(0.9,1)" font-size="15.6" text-anchor="middle" font-weight="bold" fill="#000" stroke="#000" stroke-width="0.2">7</text>
<line x1="170.46" y1="520.90" x2="170.46" y2="523.90" stroke="#333" stroke-width="1" />
<text transform="translate(170.46,537.60) scale(0.9,1)" font-size="15.6" text-anchor="middle" font-weight="bold" fill="#000" stroke="#000" stroke-width="0.2">8</text>
<line x1="215.04" y1="520.90" x2="215.04" y2="523.90" stroke="#333" stroke-width="1" />
<text transform="translate(215.04,537.60) scale(0.9,1)" font-size="15.6" text-anchor="middle" font-weight="bold" fill="#000" stroke="#000" stroke-width="0.2">9</text>
<line x1="259.62" y1="520.90" x2="259.62" y2="523.90" stroke="#333" stroke-width="1" />
<text transform="translate(259.62,537.60) scale(0.9,1)" font-size="15.6" text-anchor="middle" font-weight="bold" fill="#000" stroke="#000" stroke-width="0.2">10</text>
<line x1="304.20" y1="520.90" x2="304.20" y2="523.90" stroke="#333" stroke-width="1" />
<text transform="translate(304.20,537.60) scale(0.9,1)" font-size="15.6" text-anchor="middle" font-weight="bold" fill="#000" stroke="#000" stroke-width="0.2">11</text>
<line x1="348.78" y1="520.90" x2="348.78" y2="523.90" stroke="#333" stroke-width="1" />
<text transform="translate(348.78,537.60) scale(0.9,1)" font-size="15.6" text-anchor="middle" font-weight="bold" fill="#000" stroke="#000" stroke-width="0.2">12</text>
<line x1="393.36" y1="520.90" x2="393.36" y2="523.90" stroke="#333" stroke-width="1" />
<text transform="translate(393.36,537.60) scale(0.9,1)" font-size="15.6" text-anchor="middle" font-weight="bold" fill="#000" stroke="#000" stroke-width="0.2">13</text>
<line x1="437.94" y1="520.90" x2="437.94" y2="523.90" stroke="#333" stroke-width="1" />
<text transform="translate(437.94,537.60) scale(0.9,1)" font-size="15.6" text-anchor="middle" font-weight="bold" fill="#000" stroke="#000" stroke-width="0.2">14</text>
<line x1="482.52" y1="520.90" x2="482.52" y2="523.90" stroke="#333" stroke-width="1" />
<text transform="translate(482.52,537.60) scale(0.9,1)" font-size="15.6" text-anchor="middle" font-weight="bold" fill="#000" stroke="#000" stroke-width="0.2">15</text>
<line x1="527.10" y1="520.90" x2="527.10" y2="523.90" stroke="#333" stroke-width="1" />
<text transform="translate(527.10,537.60) scale(0.9,1)" font-size="15.6" text-anchor="middle" font-weight="bold" fill="#000" stroke="#000" stroke-width="0.2">16</text>
<line x1="571.68" y1="520.90" x2="571.68" y2="523.90" stroke="#333" stroke-width="1" />
<text transform="translate(571.68,537.60) scale(0.9,1)" font-size="15.6" text-anchor="middle" font-weight="bold" fill="#000" stroke="#000" stroke-width="0.2">17</text>
<line x1="616.26" y1="520.90" x2="616.26" y2="523.90" stroke="#333" stroke-width="1" />
<text transform="translate(616.26,537.60) scale(0.9,1)" font-size="15.6" text-anchor="middle" font-weight="bold" fill="#000" stroke="#000" stroke-width="0.2">18</text>
<line x1="660.84" y1="520.90" x2="660.84" y2="523.90" stroke="#333" stroke-width="1" />
<text transform="translate(660.84,537.60) scale(0.9,1)" font-size="15.6" text-anchor="middle" font-weight="bold" fill="#000" stroke="#000" stroke-width="0.2">19</text>
<line x1="705.42" y1="520.90" x2="705.42" y2="523.90" stroke="#333" stroke-width="1" />
<text transform="translate(705.42,537.60) scale(0.9,1)" font-size="15.6" text-anchor="middle" font-weight="bold" fill="#000" stroke="#000" stroke-width="0.2">20</text>
<line x1="750.00" y1="520.90" x2="750.00" y2="523.90" stroke="#333" stroke-width="1" />
<text transform="translate(750.00,537.60) scale(0.9,1)" font-size="15.6" text-anchor="middle" font-weight="bold" fill="#000" stroke="#000" stroke-width="0.2">&gt;20</text>
<text transform="translate(415.30,563.80) scale(0.931,1)" font-size="19.3" text-anchor="middle" font-weight="bold" fill="#000" stroke="#000" stroke-width="0.2">Number of copies used for correction</text>
<text transform="translate(14.20,466.00) rotate(-90) scale(1,0.935)" font-size="19.2" text-anchor="middle" font-weight="bold" stroke="#000" stroke-width="0.2">log10(total error rate)</text>
<text transform="translate(1.50,364.20) scale(1.0,1)" font-size="27" text-anchor="start" font-weight="bold" fill="#000" stroke="#000" stroke-width="0.2">d</text>
</svg>
</body></html>
